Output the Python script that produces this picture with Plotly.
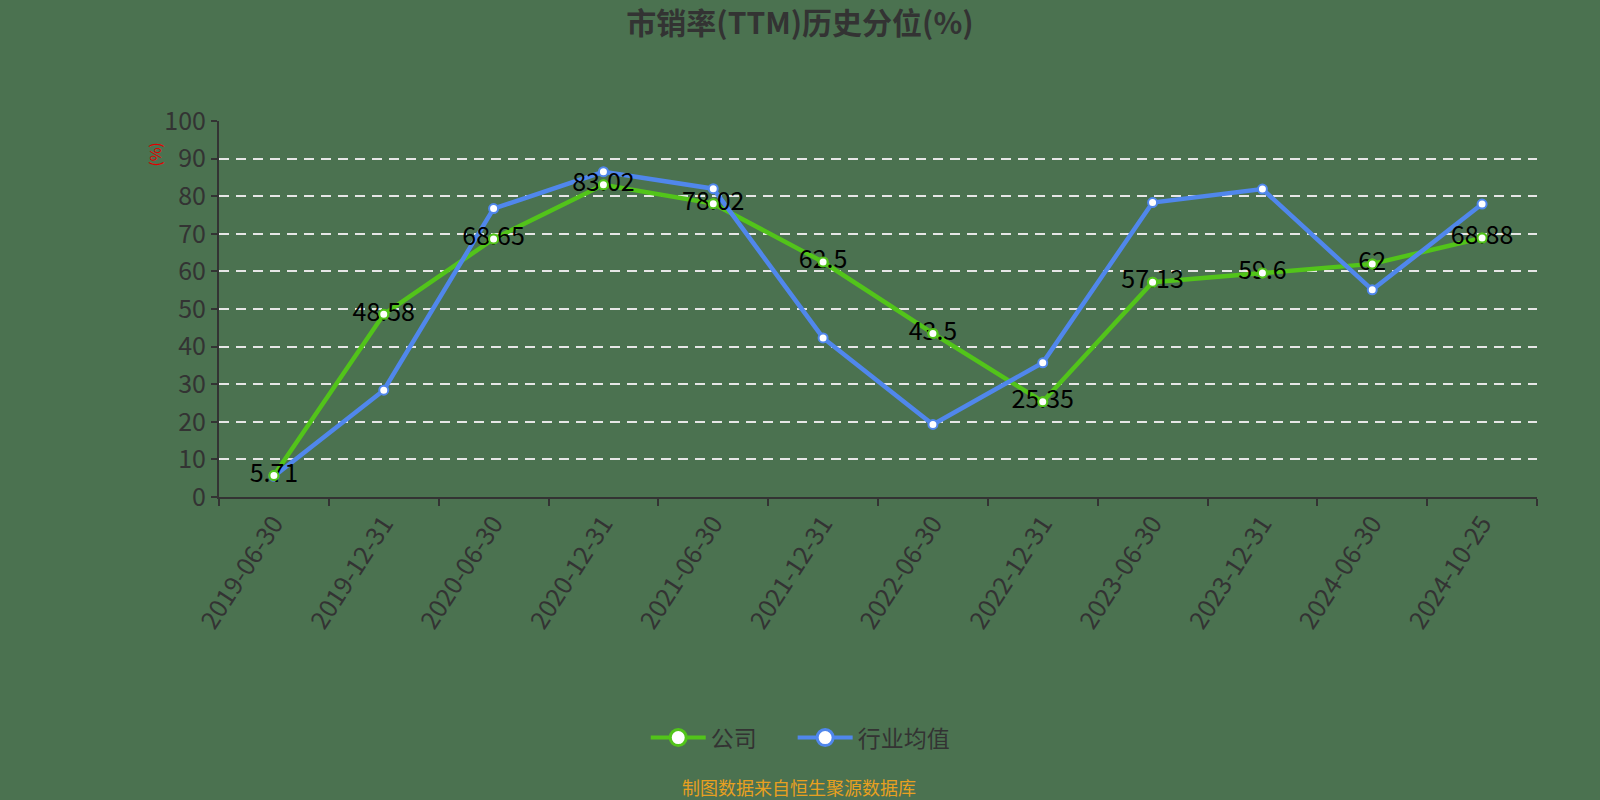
import plotly.graph_objects as go

categories = ["2019-06-30", "2019-12-31", "2020-06-30", "2020-12-31", "2021-06-30", "2021-12-31",
              "2022-06-30", "2022-12-31", "2023-06-30", "2023-12-31", "2024-06-30", "2024-10-25"]
company = [5.71, 48.58, 68.65, 83.02, 78.02, 62.5, 43.5, 25.35, 57.13, 59.6, 62, 68.88]
industry = [5.5, 28.4, 76.7, 86.5, 82.0, 42.3, 19.3, 35.7, 78.3, 81.9, 55.1, 77.9]
company_labels = ["5.71", "48.58", "68.65", "83.02", "78.02", "62.5", "43.5", "25.35", "57.13", "59.6", "62", "68.88"]
series_names = ["公司", "行业均值"]

GREEN = "#52c41a"
BLUE = "#5087ec"
BG = "#4b7250"
FONT = "Noto Sans CJK SC"

fig = go.Figure()
fig.add_trace(go.Scatter(
    x=categories, y=company, name=series_names[0], mode="lines+markers", showlegend=False,
    line=dict(color=GREEN, width=4.5),
    marker=dict(size=9, color="white", line=dict(color=GREEN, width=2)),
))
fig.add_trace(go.Scatter(
    x=categories, y=industry, name=series_names[1], mode="lines+markers", showlegend=False,
    line=dict(color=BLUE, width=4.5),
    marker=dict(size=9, color="white", line=dict(color=BLUE, width=2)),
))
fig.add_trace(go.Scatter(
    x=categories, y=company, mode="text", text=company_labels, textposition="middle center",
    textfont=dict(family=FONT, size=25, color="#000000"), showlegend=False, hoverinfo="skip",
))
fig.add_trace(go.Scatter(
    x=categories, y=company, mode="markers", showlegend=False, hoverinfo="skip",
    marker=dict(size=9, color="white", line=dict(color=GREEN, width=2)),
))
# legend entries (larger symbols as in the reference legend)
legend_pad = ["\u00a0" * 6, ""]
for nm, col, pad in zip(series_names, [GREEN, BLUE], legend_pad):
    fig.add_trace(go.Scatter(
        x=[None], y=[None], name=nm + pad, mode="lines+markers",
        line=dict(color=col, width=4),
        marker=dict(size=18, color="white", line=dict(color=col, width=3)),
    ))

fig.update_layout(
    width=1600, height=800,
    paper_bgcolor=BG, plot_bgcolor=BG,
    margin=dict(l=219, r=63, t=121, b=303),
    font=dict(family=FONT, color="#333333"),
    title=dict(text="<b>市销率(TTM)历史分位(%)</b>", x=0.5, xanchor="center",
               y=1 - 23 / 800, yref="container", yanchor="middle",
               font=dict(family=FONT, size=30, color="#333333")),
    showlegend=True,
    legend=dict(orientation="h", x=0.441, xanchor="center", y=-0.64, yanchor="middle",
                font=dict(family=FONT, size=23, color="#333333"), bgcolor="rgba(0,0,0,0)",
                itemwidth=55),
    xaxis=dict(
        type="category", range=[-0.5, 11.5], tickson="boundaries",
        showline=True, linecolor="#333333", linewidth=2,
        ticks="outside", ticklen=7, tickcolor="#333333", tickwidth=2,
        showgrid=False, tickangle=-57,
        tickfont=dict(family=FONT, size=25, color="#333333"),
    ),
    yaxis=dict(
        range=[0, 100], dtick=10, tick0=0,
        showline=True, linecolor="#333333", linewidth=2,
        ticks="outside", ticklen=6, tickcolor="#333333", tickwidth=2,
        showgrid=True, gridcolor="#e6e6e6", griddash="10px,7px", gridwidth=1.5,
        zeroline=False,
        tickfont=dict(family=FONT, size=25, color="#333333"),
    ),
    annotations=[
        dict(text="(%)", textangle=-90, x=-0.0486, y=0.911, xref="paper", yref="paper",
             showarrow=False, font=dict(family=FONT, size=15, color="#e00000"),
             xanchor="center", yanchor="middle"),
        dict(text="制图数据来自恒生聚源数据库", x=0.44, y=-0.772, xref="paper", yref="paper",
             showarrow=False, font=dict(family=FONT, size=18, color="#e8a020"),
             xanchor="center", yanchor="middle"),
    ],
)

fig.write_html("out.html", config={"displayModeBar": False},
               post_script="document.body.style.margin='0';document.body.style.padding='0';"
                           "document.body.style.overflow='hidden';")
